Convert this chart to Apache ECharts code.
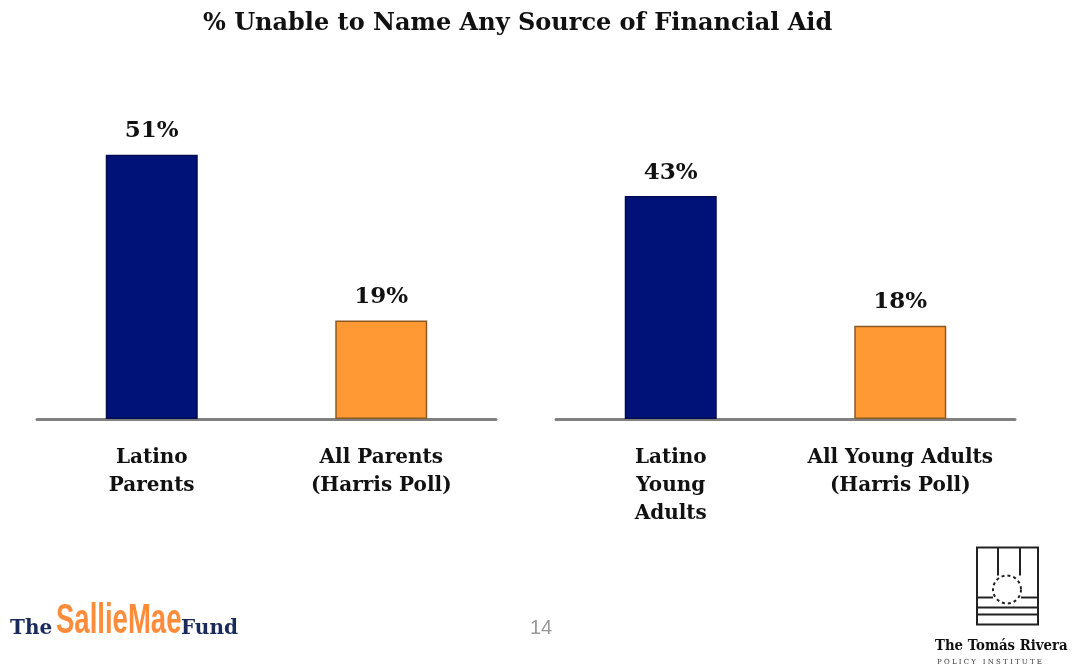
<!DOCTYPE html>
<html>
<head>
<meta charset="utf-8">
<script src="https://cdn.jsdelivr.net/npm/echarts@6/dist/echarts.min.js"></script>
<style>
html,body{margin:0;padding:0;background:#fff;}
#chart{width:1078px;height:665px;}
</style>
</head>
<body>
<div id="chart"></div>
<script>
var titleText = '% Unable to Name Any Source of Financial Aid';
var leftCategories = ['Latino\nParents', 'All Parents\n(Harris Poll)'];
var leftValues = [51, 19];
var rightCategories = ['Latino\nYoung\nAdults', 'All Young Adults\n(Harris Poll)'];
var rightValues = [43, 18];
var barColors = ['#001278', '#FF9933'];
var barBorders = ['#000C50', '#8A5A25'];
var pageNumber = '14';

var serif = '"DejaVu Serif", "Liberation Serif", serif';

function makeData(values) {
  return values.map(function (v, i) {
    return { value: v, itemStyle: { color: barColors[i], borderColor: barBorders[i], borderWidth: 1.5 } };
  });
}

var chart = echarts.init(document.getElementById('chart'));
var xAxisCommon = {
  type: 'category',
  axisLine: { lineStyle: { color: '#808080', width: 3 } },
  axisTick: { show: false },
  axisLabel: { color: '#111', fontFamily: serif, fontWeight: 'bold', fontSize: 20, lineHeight: 28, margin: 25, interval: 0 }
};
var yAxisCommon = { type: 'value', min: 0, max: 60, show: false, splitLine: { show: false } };
var labelCommon = { show: true, position: 'top', distance: 12, formatter: '{c}%', color: '#111', fontFamily: serif, fontWeight: 'bold', fontSize: 23 };

chart.setOption({
  animation: false,
  backgroundColor: '#fff',
  title: {
    text: titleText, left: 198, top: 7,
    textStyle: { fontFamily: serif, fontWeight: 'bold', fontSize: 24, color: '#111' }
  },
  grid: [
    { left: 37, width: 459, top: 108, height: 311 },
    { left: 556, width: 459, top: 108, height: 311 }
  ],
  xAxis: [
    Object.assign({ gridIndex: 0, data: leftCategories }, xAxisCommon),
    Object.assign({ gridIndex: 1, data: rightCategories }, xAxisCommon)
  ],
  yAxis: [
    Object.assign({ gridIndex: 0 }, yAxisCommon),
    Object.assign({ gridIndex: 1 }, yAxisCommon)
  ],
  series: [
    { type: 'bar', xAxisIndex: 0, yAxisIndex: 0, data: makeData(leftValues), barWidth: 92, label: labelCommon },
    { type: 'bar', xAxisIndex: 1, yAxisIndex: 1, data: makeData(rightValues), barWidth: 92, label: labelCommon }
  ],
  graphic: [
    { type: 'text', left: 530, top: 618, style: { text: pageNumber, fontFamily: 'Arial, "Liberation Sans", sans-serif', fontSize: 20, fill: '#999' } },
    { type: 'group', left: 10, top: 600, children: [
      { type: 'text', x: 0, y: 20, style: { text: 'The', fontFamily: serif, fontWeight: 'bold', fontSize: 20, fill: '#1a2a5a' } },
      { type: 'text', x: 46, y: 1, scaleX: 0.64, style: { text: 'SallieMae', fontFamily: '"Liberation Sans", Arial, sans-serif', fontWeight: 'bold', fontSize: 43, fill: '#FF8C3A' } },
      { type: 'text', x: 171, y: 20, style: { text: 'Fund', fontFamily: serif, fontWeight: 'bold', fontSize: 20, fill: '#1a2a5a' } }
    ] },
    { type: 'group', left: 935, top: 545, children: [
      { type: 'rect', shape: { x: 42, y: 0, width: 61, height: 77 }, style: { fill: 'none', stroke: '#222', lineWidth: 2 } },
      { type: 'circle', shape: { cx: 72, cy: 42, r: 14 }, style: { fill: 'none', stroke: '#222', lineWidth: 2, lineDash: [3, 3] } },
      { type: 'line', shape: { x1: 63, y1: 0, x2: 63, y2: 28 }, style: { stroke: '#222', lineWidth: 2 } },
      { type: 'line', shape: { x1: 85, y1: 0, x2: 85, y2: 28 }, style: { stroke: '#222', lineWidth: 2 } },
      { type: 'line', shape: { x1: 42, y1: 50, x2: 58, y2: 50 }, style: { stroke: '#222', lineWidth: 2 } },
      { type: 'line', shape: { x1: 86, y1: 50, x2: 103, y2: 50 }, style: { stroke: '#222', lineWidth: 2 } },
      { type: 'line', shape: { x1: 42, y1: 60, x2: 103, y2: 60 }, style: { stroke: '#222', lineWidth: 2 } },
      { type: 'line', shape: { x1: 42, y1: 67, x2: 103, y2: 67 }, style: { stroke: '#222', lineWidth: 2 } },
      { type: 'text', x: 0, y: 92, scaleX: 0.95, style: { text: 'The Tomás Rivera', fontFamily: serif, fontWeight: 'bold', fontSize: 14, fill: '#111' } },
      { type: 'text', x: 2, y: 111, style: { text: 'P O L I C Y   I N S T I T U T E', fontFamily: serif, fontSize: 7, fill: '#333' } }
    ] }
  ]
});
</script>
</body>
</html>
